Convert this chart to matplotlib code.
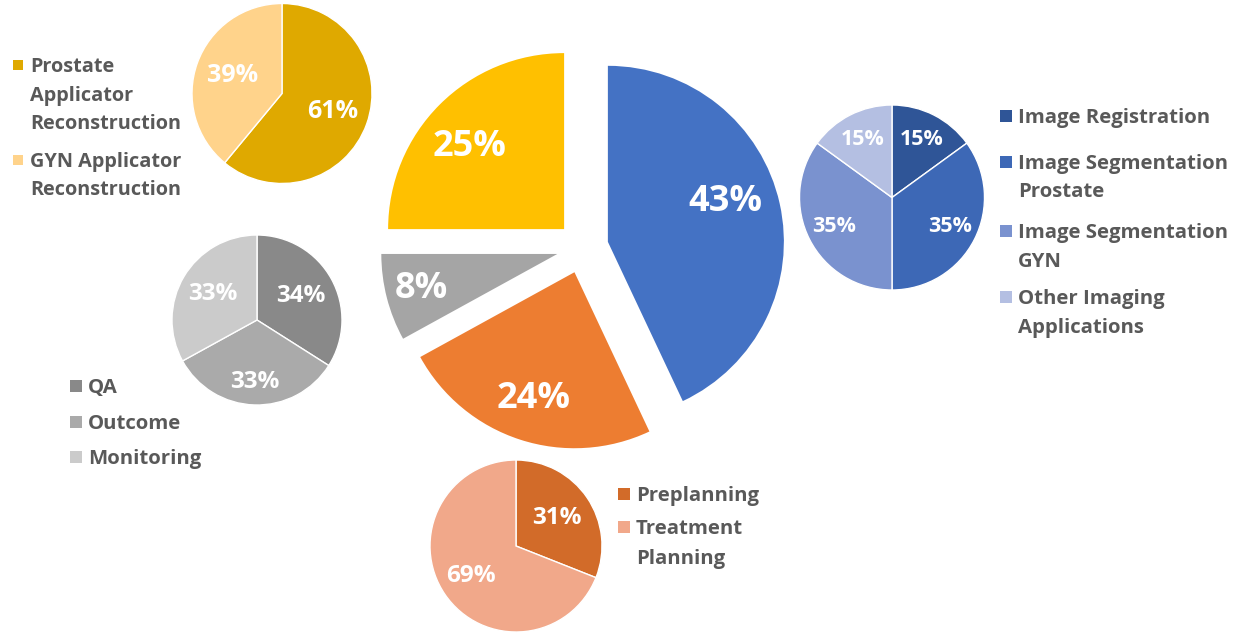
import numpy as np
import matplotlib
matplotlib.use("Agg")
import matplotlib.pyplot as plt

plt.rcParams['font.family'] = ['Open Sans', 'DejaVu Sans']

# main pie (clockwise from 12 o'clock)
main_labels = ["Imaging", "Planning", "QA/Outcome", "Applicator Reconstruction"]
main_vals = [43, 24, 8, 25]

# sub pies
recon_labels = ["Prostate\nApplicator\nReconstruction", "GYN Applicator\nReconstruction"]
recon_vals = [61, 39]

img_labels = ["Image Registration", "Image Segmentation\nProstate",
              "Image Segmentation\nGYN", "Other Imaging\nApplications"]
img_vals = [15, 35, 35, 15]

qa_labels = ["QA", "Outcome", "Monitoring"]
qa_vals = [34, 33, 33]

plan_labels = ["Preplanning", "Treatment\nPlanning"]
plan_vals = [31, 69]

W, H = 1252, 634
fig = plt.figure(figsize=(W / 100, H / 100), dpi=100)
ax = fig.add_axes([0, 0, 1, 1])
ax.set_xlim(0, W)
ax.set_ylim(0, H)
ax.set_aspect('equal')
ax.axis('off')

LEG_COLOR = '#595959'


def pie(vals, center, r, colors, dists, fs, explode=None, edge=True, shifts=None):
    cx, cy = center
    if shifts is None:
        shifts = [0] * len(vals)
    wp = dict(edgecolor='white', linewidth=1.0) if edge else dict(linewidth=0)
    wedges, _ = ax.pie(vals, center=(cx, H - cy), radius=r, colors=colors,
                       startangle=90, counterclock=False, explode=explode,
                       wedgeprops=wp, frame=True)
    for w, d, s, v in zip(wedges, dists, shifts, vals):
        th = np.deg2rad(0.5 * (w.theta1 + w.theta2) + s)
        x0, y0 = w.center
        ax.text(x0 + d * r * np.cos(th), y0 + d * r * np.sin(th), f"{v}%",
                ha='center', va='center', color='white', fontsize=fs,
                fontweight='bold')
    return wedges


def legend(labels, colors, x, ys, fs, step):
    cap = fs * 100 / 72 * 0.714
    for lab, c, y0 in zip(labels, colors, ys):
        ax.scatter([x - 12], [H - y0], marker='s', s=(cap * 0.55) ** 2,
                   color=c, linewidths=0)
        for i, line in enumerate(lab.split("\n")):
            yb = y0 + i * step + cap / 2
            ax.text(x, H - yb, line, ha='left', va='baseline', fontsize=fs,
                    fontweight='bold', color=LEG_COLOR)


# main pie
main_colors = ['#4472C4', '#ED7D31', '#A5A5A5', '#FFC000']
pie(main_vals, (582.5, 247.5), 176, main_colors, [0.705, 0.755, 0.795, 0.715],
    26, explode=[26] * 4, edge=False, shifts=[6, 0, 0, 4])

# applicator reconstruction
recon_colors = ['#DFA900', '#FFD38B']
pie(recon_vals, (282, 93.5), 90, recon_colors, [0.60, 0.58], 18)
legend(recon_labels, recon_colors, 30, [65, 159.5], 14.3, 28.5)

# imaging
img_colors = ['#2F5597', '#3D68B6', '#7A92CF', '#B4BFE2']
pie(img_vals, (892, 197.5), 92.5, img_colors, [0.70, 0.70, 0.70, 0.70], 15.5)
legend(img_labels, img_colors, 1018, [116, 161.5, 231, 297], 14.7, 28.5)

# QA / outcome
qa_colors = ['#898989', '#AAAAAA', '#CBCBCB']
pie(qa_vals, (257, 320), 85, qa_colors, [0.59, 0.73, 0.61], 17.5)
legend(qa_labels, qa_colors, 88, [386, 422, 457], 14.7, 30)

# planning
plan_colors = ['#D26B29', '#F1A88A']
pie(plan_vals, (516, 546), 86, plan_colors, [0.57, 0.63], 17.5)
legend(plan_labels, plan_colors, 636, [493.5, 527], 14.7, 30)

ax.set_xlim(0, W)
ax.set_ylim(0, H)
ax.axis('off')
fig.savefig('out.png', dpi=100)
